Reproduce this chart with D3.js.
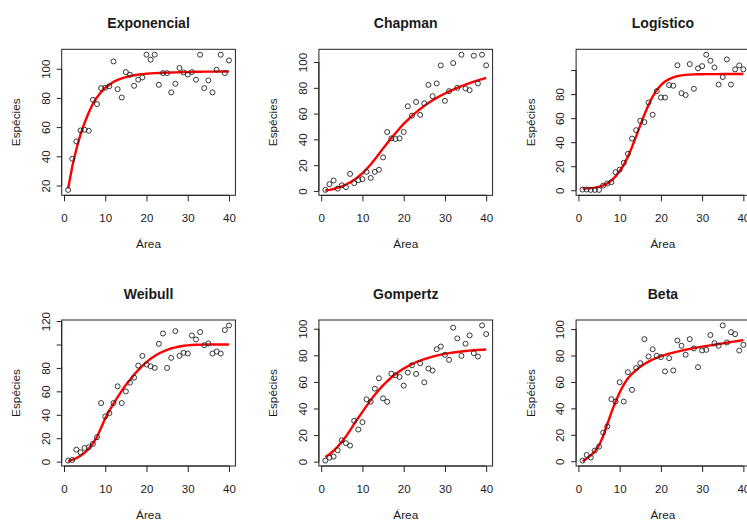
<!DOCTYPE html>
<html lang="pt">
  <head>
    <meta charset="utf-8">
    <title>Modelos de curva espécie-área</title>
    <script src="https://d3js.org/d3.v7.min.js"></script>
    <style>
      body { margin: 0; background: #fff; }
      text { font-family: "Liberation Sans", Arial, sans-serif; fill: #1a1a1a; }
    </style>
  </head>
  <body>
    <div id="chart"></div>
    <script>

// Data
var area = [1,2,3,4,5,6,7,8,9,10,11,12,13,14,15,16,17,18,19,20,
            21,22,23,24,25,26,27,28,29,30,31,32,33,34,35,36,37,38,39,40];

var expObs = [17,38.3,50.2,57.7,58.2,57.5,78.7,75.8,86.7,87,88,105,86,80.3,97.7,95.9,88.3,92.5,94,109.6,
              106.2,109.6,89,97,97,83.8,89.7,100.5,97.5,96,97.7,92.5,109.6,86.7,92,83.8,99.3,109.6,97,105.7];
var expFit = [18,33,45,55,63,70,76,80.5,84,87,89,91,92.3,93.4,94.3,95,95.5,96,96.3,96.6,
              96.8,97,97.1,97.2,97.3,97.4,97.5,97.6,97.7,97.8,97.8,97.9,97.9,98,98,98,98.1,98.1,98.1,98.2];

var chapObs = [0.8,5.2,8.1,1.8,4.4,2.9,13.2,6,8.3,9.1,14.8,10.1,14.8,16.4,26,45.7,40.8,40.3,40.8,45.7,
               65.7,58.4,69,59,68,82.3,73.5,83.4,97.4,69.9,77.4,99.2,80,105.7,79.5,78.2,104.9,83.4,105.7,97.4];
var chapFit = [0.3,0.8,1.5,2.5,3.6,5,6.6,8.6,11,13.7,17,20.5,24.5,28.7,33,37,41,44.8,48.5,52,
               55.2,58.2,61,63.6,66,68.2,70.3,72.2,74,75.6,77.2,78.6,80,81.3,82.5,83.7,84.8,85.8,86.8,87.8];

var logObs = [0.6,0.6,0.3,0.3,0.3,3.9,5.6,6.7,15,17.2,22.8,30.3,43,50,57.8,56.7,73,62.8,82.5,77.2,
              77.2,87.5,87,104,80.8,79.2,105,84.4,101.4,103.3,112.8,107.8,102.2,88,94.2,108.9,88,100.6,103.9,100.6];
var logFit = [1.5,1.6,1.8,2.2,2.9,4,5.6,8,11.5,16,21,28,36,45,54,63,71,78,83.5,87.5,
              90.5,92.5,94,95,95.6,96,96.2,96.4,96.5,96.5,96.6,96.6,96.6,96.6,96.7,96.7,96.7,96.7,96.7,96.7];

var weiObs = [0.9,1.4,10.3,8,11.7,12.3,15.1,20.9,50,38.6,41.4,50,64.3,50,60,67.4,71.7,82,90.3,82.9,
              81.4,80,100.6,109.4,80,88.6,111.4,90.3,92.9,92.3,107.7,104.3,110.6,99.4,100.9,92.3,94,92.3,112.3,116.3];
var weiFit = [0.5,1.5,3,5,7.5,11,15.5,21,29,37,43.5,49.5,55,60.5,65.5,70,74.3,78.2,81.8,85,
              87.8,90.2,92.3,94,95.5,96.7,97.6,98.3,98.9,99.3,99.6,99.8,99.9,99.9,100,100,100,100,100,100];

var gomObs = [0.8,3,3.8,8.6,16.1,13.9,12.1,30.7,24.2,29.7,46.9,45.1,54.9,62.7,47.6,45.1,66.2,65,63.7,57.2,
              67,72.5,66,74,59.7,70,68.5,84.6,86.6,80.4,76.6,100.8,92.7,79.6,88.7,95,81.6,79.1,102.5,96];
var gomFit = [3.5,5.6,8.2,11.3,15,19,23.5,28.5,33,37.5,42,46.3,50.3,54,57.4,60.5,63.3,65.8,68,70,
              71.8,73.4,74.8,76,77.1,78.1,79,79.8,80.5,81.1,81.6,82.1,82.5,82.9,83.2,83.5,83.8,84,84.2,84.4];

var betaObs = [0.5,4.8,2.8,8.1,11.1,21.7,26.3,47,45.1,59.8,45.2,67.4,54,70.5,74.2,92.4,79.3,84.8,79.8,78.8,
               68,78,68.7,91.4,87.4,80.6,92.4,85.4,71.2,83.8,84.3,95.5,89.4,87.4,102.8,89.9,97.7,96.2,83.8,88.1];
var betaFit = [0,2,4.5,7.5,12,19,28,37,45,52,58,62.8,66.2,69,71.5,73.6,75.4,77,78.3,79.5,
               80.5,81.4,82.2,83,83.7,84.4,85,85.6,86.2,86.7,87.2,87.7,88.2,88.7,89.2,89.7,90.2,90.7,91.2,91.7];

var titles = ["Exponencial", "Chapman", "Logístico", "Weibull", "Gompertz", "Beta"];

// tick values and labels (R drops some labels that would overlap)
var xTicks = [0, 10, 20, 30, 40];
var yTicksA = [20, 40, 60, 80, 100];
var yLabelsA = ["20", "40", "60", "80", "100"];
var yTicksB = [0, 20, 40, 60, 80, 100];
var yLabelsB = ["0", "20", "40", "60", "80", "100"];
var yLabelsC = ["0", "20", "40", "60", "80", ""];
var yTicksD = [0, 20, 40, 60, 80, 100, 120];
var yLabelsD = ["0", "20", "40", "60", "80", "", "120"];

var panels = [
  {title: titles[0], obs: expObs,  fit: expFit,  ticks: yTicksA, labels: yLabelsA},
  {title: titles[1], obs: chapObs, fit: chapFit, ticks: yTicksB, labels: yLabelsB},
  {title: titles[2], obs: logObs,  fit: logFit,  ticks: yTicksB, labels: yLabelsC},
  {title: titles[3], obs: weiObs,  fit: weiFit,  ticks: yTicksD, labels: yLabelsD},
  {title: titles[4], obs: gomObs,  fit: gomFit,  ticks: yTicksB, labels: yLabelsB},
  {title: titles[5], obs: betaObs, fit: betaFit, ticks: yTicksB, labels: yLabelsB}
];

// layout
var w = 747, h = 521;
var boxW = 173.7, boxH = 146;
var colStep = 257.2, rowStep = 270.7;
var left0 = 61.7, top0 = 49.3;

var svg = d3.select("#chart").append("svg")
    .attr("width", w)
    .attr("height", h);

svg.append("rect").attr("width", w).attr("height", h).attr("fill", "#fff");

// R style axis extent: data range plus 4% each side
function rExtent(vals) {
    var lo = d3.min(vals), hi = d3.max(vals);
    var pad = (hi - lo) * 0.04;
    return [lo - pad, hi + pad];
}

panels.forEach(function(p, i) {
    var col = i % 3, row = Math.floor(i / 3);
    var g = svg.append("g")
        .attr("transform", `translate(${left0 + col * colStep}, ${top0 + row * rowStep})`);

    var xScale = d3.scaleLinear().domain(rExtent(area)).range([0, boxW]);
    var yScale = d3.scaleLinear().domain(rExtent(p.obs)).range([boxH, 0]);

    // x axis
    var xAxis = d3.axisBottom(xScale).tickValues(xTicks).tickSize(6).tickSizeOuter(0);
    var gx = g.append("g").attr("transform", `translate(0, ${boxH})`).call(xAxis);
    gx.select(".domain").remove();
    gx.append("line")
        .attr("x1", xScale(xTicks[0])).attr("x2", xScale(xTicks[xTicks.length - 1]))
        .attr("stroke", "#222");
    gx.selectAll(".tick line").attr("stroke", "#222");
    gx.selectAll(".tick text")
        .attr("y", 26.5).attr("dy", null)
        .style("font-size", "11.5px")
        .attr("fill", "#1a1a1a");

    // y axis, labels parallel to the axis
    var yAxis = d3.axisLeft(yScale).tickValues(p.ticks).tickSize(5).tickSizeOuter(0)
        .tickFormat(function(d, k) { return p.labels[k]; });
    var gy = g.append("g").call(yAxis);
    gy.select(".domain").remove();
    gy.append("line")
        .attr("y1", yScale(p.ticks[0])).attr("y2", yScale(p.ticks[p.ticks.length - 1]))
        .attr("stroke", "#222");
    gy.selectAll(".tick line").attr("stroke", "#222");
    gy.selectAll(".tick text")
        .attr("x", null).attr("dy", null)
        .attr("transform", "translate(-12, 0) rotate(-90)")
        .attr("text-anchor", "middle")
        .style("font-size", "11.5px")
        .attr("fill", "#1a1a1a");
    gy.attr("font-family", null);
    gx.attr("font-family", null);

    // box
    g.append("rect")
        .attr("width", boxW).attr("height", boxH)
        .attr("fill", "none").attr("stroke", "#222").attr("stroke-width", 1);

    // fitted curve
    var line = d3.line()
        .x(function(d, k) { return xScale(area[k]); })
        .y(function(d) { return yScale(d); });
    g.append("path")
        .datum(p.fit)
        .attr("d", line)
        .attr("fill", "none")
        .attr("stroke", "#ff0000")
        .attr("stroke-width", 2.4)
        .attr("stroke-linejoin", "round");

    // observed points
    g.append("g").selectAll("circle")
        .data(p.obs)
        .enter().append("circle")
        .attr("cx", function(d, k) { return xScale(area[k]); })
        .attr("cy", function(d) { return yScale(d); })
        .attr("r", 2.5)
        .attr("fill", "none")
        .attr("stroke", "#222")
        .attr("stroke-width", 0.9);

    // titles
    g.append("text")
        .attr("x", boxW / 2).attr("y", -21)
        .attr("text-anchor", "middle")
        .style("font-size", "14px")
        .style("font-weight", "bold")
        .text(p.title);

    g.append("text")
        .attr("x", boxW / 2).attr("y", boxH + 52.5)
        .attr("text-anchor", "middle")
        .style("font-size", "11.8px")
        .text("Área");

    g.append("text")
        .attr("transform", `translate(-41.5, ${boxH / 2}) rotate(-90)`)
        .attr("text-anchor", "middle")
        .style("font-size", "11.8px")
        .text("Espécies");
});

    </script>
  </body>
</html>
